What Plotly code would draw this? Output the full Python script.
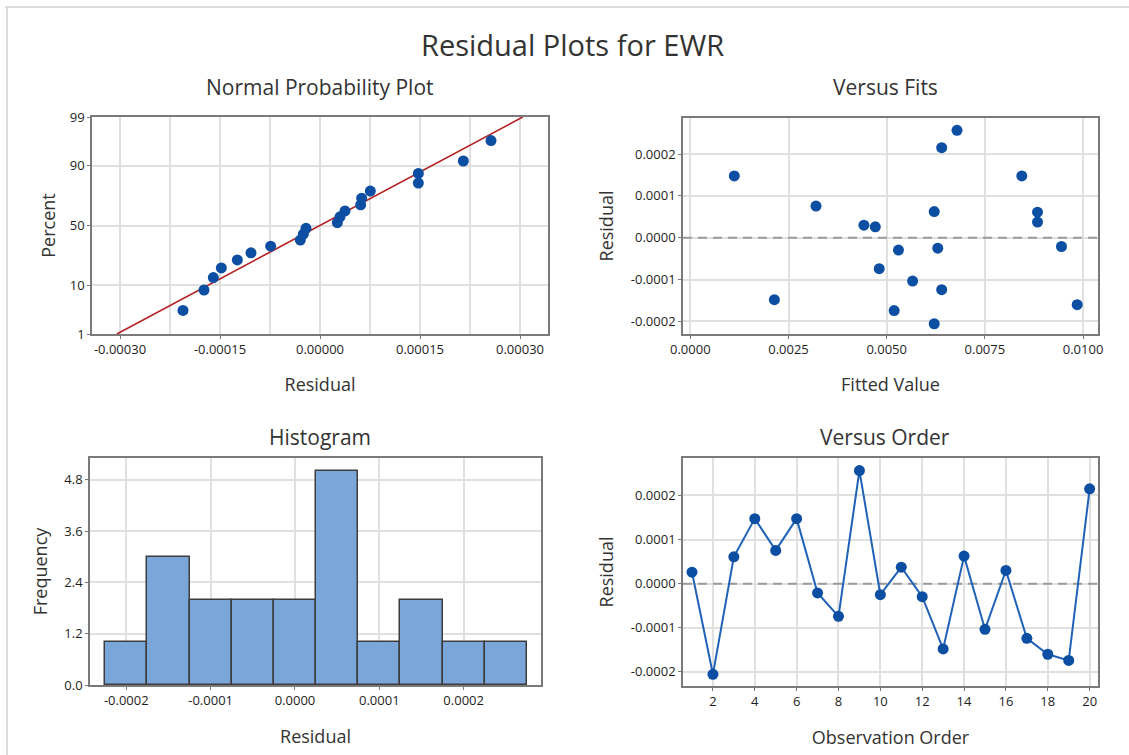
import plotly.graph_objects as go
from statistics import NormalDist

# ---------------- data ----------------
observation = list(range(1, 21))
residuals = [0.0000260, -0.0002055, 0.0000610, 0.0001475, 0.0000755,
             0.0001475, -0.0000210, -0.0000740, 0.0002565, -0.0000250,
             0.0000375, -0.0000295, -0.0001480, 0.0000625, -0.0001035,
             0.0000300, -0.0001240, -0.0001600, -0.0001740, 0.0002150]
fitted = [0.00471, 0.00621, 0.00884, 0.00112, 0.00320,
          0.00844, 0.00945, 0.00481, 0.00679, 0.00630,
          0.00884, 0.00530, 0.00214, 0.00621, 0.00566,
          0.00442, 0.00640, 0.00985, 0.00519, 0.00640]
hist_mid = [-0.00020, -0.00015, -0.00010, -0.00005, 0.00000,
            0.00005, 0.00010, 0.00015, 0.00020, 0.00025]
hist_count = [1, 3, 2, 2, 2, 5, 1, 2, 1, 1]
bin_width = 0.00005

npp_xticks = [-0.0003, -0.00015, 0.0, 0.00015, 0.0003]
npp_xtext = ["-0.00030", "-0.00015", "0.00000", "0.00015", "0.00030"]
npp_xminor = [-0.000225, -0.000075, 0.000075, 0.000225]
npp_pct = [1, 10, 50, 90, 99]
fit_xticks = [0.0, 0.0025, 0.005, 0.0075, 0.01]
fit_xtext = ["0.0000", "0.0025", "0.0050", "0.0075", "0.0100"]
res_ticks = [-0.0002, -0.0001, 0.0, 0.0001, 0.0002]
res_text = ["-0.0002", "-0.0001", "0.0000", "0.0001", "0.0002"]
hist_xticks = [-0.0002, -0.0001, 0.0, 0.0001, 0.0002]
hist_xtext = ["-0.0002", "-0.0001", "0.0000", "0.0001", "0.0002"]
hist_yticks = [0.0, 1.2, 2.4, 3.6, 4.8]
hist_ytext = ["0.0", "1.2", "2.4", "3.6", "4.8"]
order_xticks = [2, 4, 6, 8, 10, 12, 14, 16, 18, 20]

# axis ranges
fit_xrange = [-0.000186, 0.01038]
order_xrange = [0.57, 20.4]

# ---------------- derived (normal probability) ----------------
nd = NormalDist()
n = len(residuals)
sorted_res = sorted(residuals)
z_pos = [nd.inv_cdf((i + 1 - 0.3) / (n + 0.4)) for i in range(n)]
mean = sum(residuals) / n
sd = (sum((r - mean) ** 2 for r in residuals) / (n - 1)) ** 0.5
z_lo, z_hi = nd.inv_cdf(0.01), nd.inv_cdf(0.99)
line_x = [mean + sd * z_lo, mean + sd * z_hi]
line_z = [z_lo, z_hi]
pct_z = [nd.inv_cdf(p / 100) for p in npp_pct]

W, H = 1129, 755
def dx(a, b):
    return [a / W, b / W]
def dy(top, bot):
    return [1 - bot / H, 1 - top / H]

BLUE = "#0B4EA2"
LINE_BLUE = "#1F62B8"
FONT = "Open Sans"
TXT = "#1e1e1e"
GRID = "#e0e0e0"
FRAME = "#7a7a7a"
ZERO = dict(color="#9a9a9a", width=2, dash="9px,6px")

fig = go.Figure()

# Normal probability plot
fig.add_trace(go.Scatter(x=line_x, y=line_z, mode="lines",
                         line=dict(color="#B22020", width=1.6),
                         xaxis="x", yaxis="y", showlegend=False, hoverinfo="skip"))
fig.add_trace(go.Scatter(x=sorted_res, y=z_pos, mode="markers",
                         marker=dict(color=BLUE, size=11),
                         xaxis="x", yaxis="y", showlegend=False))
# Versus fits
fig.add_trace(go.Scatter(x=fit_xrange, y=[0, 0], mode="lines", line=ZERO,
                         xaxis="x2", yaxis="y2", showlegend=False, hoverinfo="skip"))
fig.add_trace(go.Scatter(x=fitted, y=residuals, mode="markers",
                         marker=dict(color=BLUE, size=11),
                         xaxis="x2", yaxis="y2", showlegend=False))
# Histogram
fig.add_trace(go.Bar(x=hist_mid, y=hist_count, width=bin_width,
                     marker=dict(color="#7BA6DA", line=dict(color="#3d3d3d", width=1.5)),
                     xaxis="x3", yaxis="y3", showlegend=False))
# Versus order
fig.add_trace(go.Scatter(x=order_xrange, y=[0, 0], mode="lines", line=ZERO,
                         xaxis="x4", yaxis="y4", showlegend=False, hoverinfo="skip"))
fig.add_trace(go.Scatter(x=observation, y=residuals, mode="lines+markers",
                         line=dict(color=LINE_BLUE, width=2),
                         marker=dict(color=BLUE, size=11),
                         xaxis="x4", yaxis="y4", showlegend=False))

def axis(**kw):
    base = dict(showline=True, linecolor=FRAME, linewidth=1.6, mirror=True,
                showgrid=True, gridcolor=GRID, gridwidth=1.5, zeroline=False,
                ticks="outside", ticklen=3, tickcolor=FRAME, tickwidth=1,
                tickfont=dict(family=FONT, size=13, color=TXT),
                title_font=dict(family=FONT, size=18, color="#333333"),
                tickmode="array", automargin=False)
    base.update(kw)
    return base

fig.update_layout(
    width=W, height=H, autosize=False,
    margin=dict(l=0, r=0, t=0, b=0),
    paper_bgcolor="white", plot_bgcolor="white",
    bargap=0,
    xaxis=axis(domain=dx(92, 548), anchor="y", range=[-0.000342, 0.000342],
               tickvals=npp_xticks, ticktext=npp_xtext,
               minor=dict(tickvals=npp_xminor, showgrid=True, gridcolor=GRID, ticklen=0),
               title=dict(text="Residual", standoff=21)),
    yaxis=axis(domain=dy(117, 334), anchor="x", range=[z_lo, z_hi],
               tickvals=pct_z, ticktext=[str(p) for p in npp_pct],
               title=dict(text="Percent", standoff=9)),
    xaxis2=axis(domain=dx(683, 1098), anchor="y2", range=fit_xrange,
                tickvals=fit_xticks, ticktext=fit_xtext,
                title=dict(text="Fitted Value", standoff=21)),
    yaxis2=axis(domain=dy(118, 334), anchor="x2", range=[-0.00023, 0.000286],
                tickvals=res_ticks, ticktext=res_text,
                title=dict(text="Residual", standoff=13)),
    xaxis3=axis(domain=dx(90, 541), anchor="y3", range=[-0.000243, 0.0002917],
                tickvals=hist_xticks, ticktext=hist_xtext,
                title=dict(text="Residual", standoff=22)),
    yaxis3=axis(domain=dy(458, 685), anchor="x3", range=[0, 5.31],
                tickvals=hist_yticks, ticktext=hist_ytext,
                title=dict(text="Frequency", standoff=12)),
    xaxis4=axis(domain=dx(683, 1098), anchor="y4", range=order_xrange,
                tickvals=order_xticks,
                title=dict(text="Observation Order", standoff=22)),
    yaxis4=axis(domain=dy(458, 686), anchor="x4", range=[-0.000232, 0.000285],
                tickvals=res_ticks, ticktext=res_text,
                title=dict(text="Residual", standoff=13)),
)

# outer frame lines of the graph window
fig.add_shape(type="line", xref="paper", yref="paper", x0=5 / W, x1=1, y0=1 - 7 / H, y1=1 - 7 / H,
              line=dict(color="#dcdcdc", width=2))
fig.add_shape(type="line", xref="paper", yref="paper", x0=7 / W, x1=7 / W, y0=0, y1=1 - 7 / H,
              line=dict(color="#dcdcdc", width=2))

# titles
def label(text, x, y, size):
    fig.add_annotation(text=text, x=x / W, y=1 - y / H, xref="paper", yref="paper",
                       showarrow=False, xanchor="center", yanchor="middle",
                       font=dict(family=FONT, size=size, color="#333333"))

label("Residual Plots for EWR", 572, 45, 29)
label("Normal Probability Plot", 320, 87, 21)
label("Versus Fits", 885, 87, 21)
label("Histogram", 320, 437, 21)
label("Versus Order", 885, 437, 21)

fig.write_html("out.html")
